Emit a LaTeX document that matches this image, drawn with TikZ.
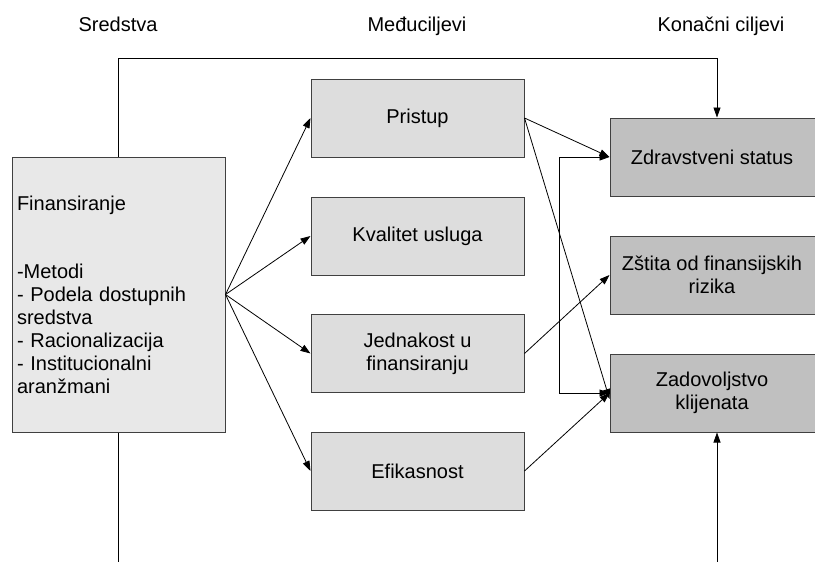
\documentclass[tikz,border=0pt]{standalone}
\usepackage{fontspec}
\setmainfont{Liberation Sans}
\usetikzlibrary{arrows.meta}
\definecolor{leftfill}{HTML}{E8E8E8}
\definecolor{midfill}{HTML}{DDDDDD}
\definecolor{rightfill}{HTML}{C0C0C0}
\definecolor{border}{HTML}{404040}
\tikzset{
  box/.style={draw=border, line width=1pt, inner sep=0pt, align=center,
    font=\fontsize{20}{23}\selectfont},
  meansbox/.style={box, fill=leftfill, minimum width=213pt, minimum height=275pt,
    align=left, text width=203pt},
  midbox/.style={box, fill=midfill, minimum width=213pt, minimum height=78pt},
  goalbox/.style={box, fill=rightfill, minimum width=208pt, minimum height=78pt},
  header/.style={font=\fontsize{20}{23}\selectfont, anchor=base, inner sep=0pt},
  conn/.style={draw=black, line width=0.8pt, -{Triangle[length=10pt,width=7pt]}},
  plain/.style={draw=black, line width=0.8pt},
}
\begin{document}
\begin{tikzpicture}[x=1pt,y=-1pt]
\useasboundingbox (0,0) rectangle (815,562);
\fill[white] (0,0) rectangle (815,562);

% headers
\node[header] (hs) at (118,31) {Sredstva};
\node[header] (hm) at (417,31) {Međuciljevi};
\node[header] (hk) at (721,31) {Konačni ciljevi};

% means
\node[meansbox] (fin) at (118.5,294.5) {Finansiranje\\[45pt]-Metodi\\- Podela dostupnih\\sredstva\\- Racionalizacija\\- Institucionalni\\aranžmani};

% intermediate goals
\node[midbox] (pri) at (417.5,118) {Pristup};
\node[midbox] (kva) at (417.5,236) {Kvalitet usluga};
\node[midbox] (jed) at (417.5,353.5) {Jednakost u\\finansiranju};
\node[midbox] (efi) at (417.5,471) {Efikasnost};

% final goals
\node[goalbox] (zdr) at (714,157) {\hspace*{-4pt}Zdravstveni status};
\node[goalbox] (zst) at (714,275) {\hspace*{-4pt}Zštita od finansijskih\\\hspace*{-4pt}rizika};
\node[goalbox] (zad) at (714,393) {\hspace*{-4pt}Zadovoljstvo\\\hspace*{-4pt}klijenata};

% helper coordinates
\coordinate (top1) at (118,58);
\coordinate (top2) at (717,58);
\coordinate (bot1) at (118,562);
\coordinate (bot2) at (717,562);
\coordinate (brk1) at (559,157);
\coordinate (brk2) at (559,393);

% fan from financing
\draw[conn] (fin.east) -- (pri.west);
\draw[conn] (fin.east) -- (kva.west);
\draw[conn] (fin.east) -- (jed.west);
\draw[conn] (fin.east) -- (efi.west);

% to final goals
\draw[conn] (pri.east) -- (zdr.west);
\draw[conn] (pri.east) -- ([yshift=-6pt]zad.west);
\draw[conn] (jed.east) -- (zst.west);
\draw[conn] (efi.east) -- (zad.west);

% bracket line
\draw[plain] (brk1) -- (brk2);
\draw[conn] (brk1) -- (zdr.west);
\draw[conn] (brk2) -- (zad.west);

% top loop
\draw[conn] (fin.north -| top1) -- (top1) -- (top2) -- (zdr.north -| top2);

% bottom lines
\draw[plain] (fin.south -| bot1) -- (bot1);
\draw[conn] (bot2) -- (zad.south -| bot2);
\end{tikzpicture}
\end{document}
